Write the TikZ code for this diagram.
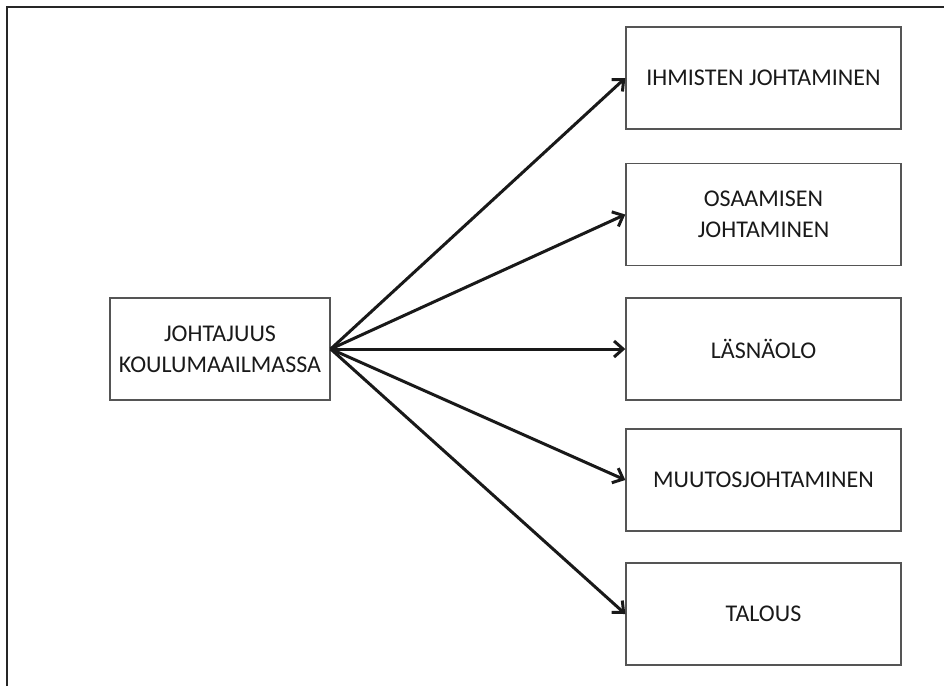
\documentclass[tikz,border=0pt]{standalone}
\usepackage{fontspec}
\setmainfont{Carlito}
\usetikzlibrary{arrows.meta}
\definecolor{boxline}{RGB}{85,85,85}
\definecolor{arrline}{RGB}{25,25,25}
\tikzset{
  box/.style={draw=boxline, line width=1.4pt, rectangle, minimum height=102pt,
    align=center, font=\fontsize{24}{31}\selectfont, text=black!90, inner sep=0pt},
  leftbox/.style={box, minimum width=220pt},
  rightbox/.style={box, minimum width=275pt},
  arr/.style={draw=arrline, line width=3pt, -{Straight Barb[length=9pt,width=16pt,line width=3pt]}},
  frameline/.style={draw=black!85, line width=1.6pt}
}
\begin{document}
\begin{tikzpicture}[x=1pt,y=-1pt]
\useasboundingbox (0,0) rectangle (944,686);
\coordinate (fa) at (7,686);
\coordinate (fb) at (7,7);
\coordinate (fc) at (944,7);
\draw[frameline] (fa) -- (fb) -- (fc);
\node[leftbox] (src) at (220,349) {JOHTAJUUS\\KOULUMAAILMASSA};
\node[rightbox] (r1) at (763.5,78) {IHMISTEN JOHTAMINEN};
\node[rightbox] (r2) at (763.5,214.5) {OSAAMISEN\\JOHTAMINEN};
\node[rightbox] (r3) at (763.5,349) {LÄSNÄOLO};
\node[rightbox] (r4) at (763.5,480) {MUUTOSJOHTAMINEN};
\node[rightbox] (r5) at (763.5,614) {TALOUS};
\foreach \t in {r1,r2,r3,r4,r5}
  \draw[arr] (src.east) -- (\t.west);
\end{tikzpicture}
\end{document}
